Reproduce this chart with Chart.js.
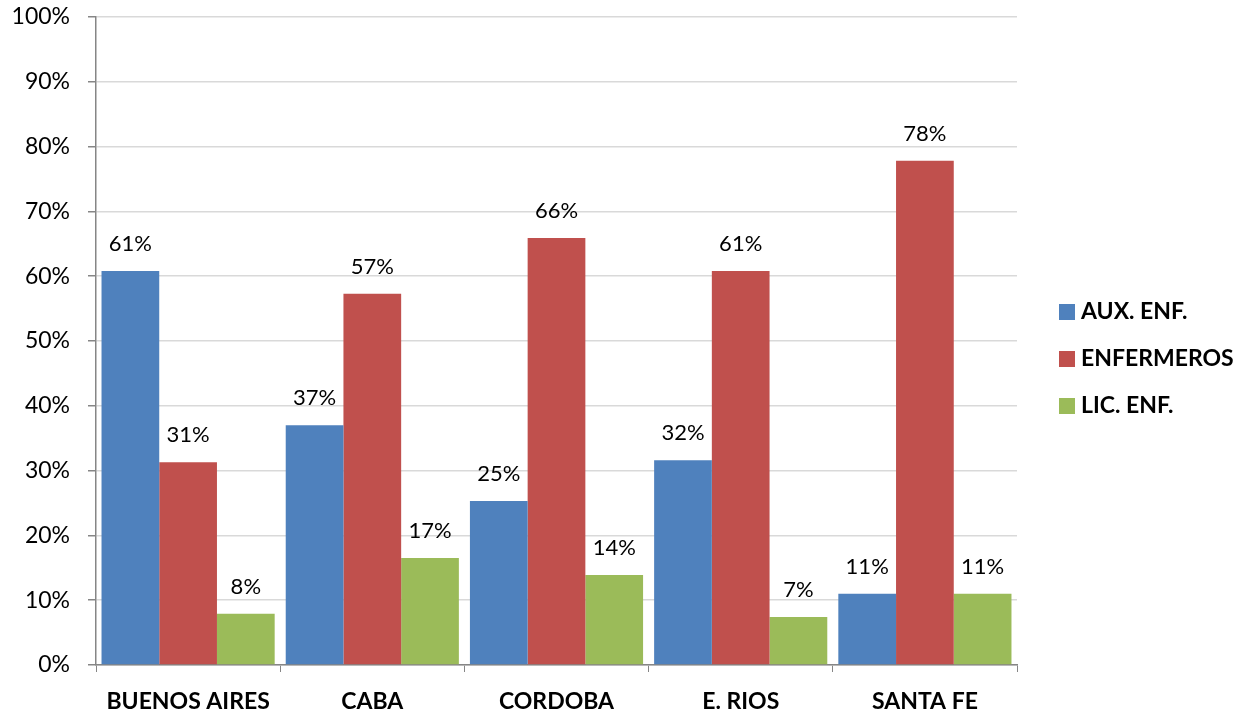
<!DOCTYPE html>
<html>
<head>
<meta charset="utf-8">
<script src="https://cdn.jsdelivr.net/npm/chart.js@4"></script>
<style>
  html, body { margin: 0; padding: 0; background: #fff; }
  #wrap { width: 1236px; height: 711px; }
</style>
</head>
<body>
<div id="wrap"><canvas id="provChart"></canvas></div>
<script>
const categories = ["BUENOS AIRES", "CABA", "CORDOBA", "E. RIOS", "SANTA FE"];
const seriesNames = ["AUX. ENF.", "ENFERMEROS", "LIC. ENF."];
const auxEnf = [60.8, 37.0, 25.3, 31.6, 11.0];
const enfermeros = [31.3, 57.3, 65.9, 60.8, 77.8];
const licEnf = [7.9, 16.5, 13.9, 7.4, 11.0];
const yTicks = [0, 10, 20, 30, 40, 50, 60, 70, 80, 90, 100];

const colors = ["#4F81BD", "#C0504D", "#9BBB59"];
const fontFamily = "Lato, 'Open Sans', sans-serif";

// value labels above each bar
const barLabels = {
  id: "barLabels",
  afterDatasetsDraw(chart) {
    const ctx = chart.ctx;
    ctx.save();
    ctx.font = "22px " + fontFamily;
    ctx.fillStyle = "#000";
    ctx.textAlign = "center";
    ctx.textBaseline = "middle";
    chart.data.datasets.forEach((ds, i) => {
      chart.getDatasetMeta(i).data.forEach((bar, j) => {
        ctx.fillText(Math.round(ds.data[j]) + "%", bar.x, bar.y - 27);
      });
    });
    ctx.restore();
  }
};

// legend on the right, drawn by hand for exact placement
const sideLegend = {
  id: "sideLegend",
  afterDraw(chart) {
    const ctx = chart.ctx;
    const midY = (chart.chartArea.top + chart.chartArea.bottom) / 2 + 18;
    ctx.save();
    ctx.font = "bold 23px " + fontFamily;
    ctx.textBaseline = "middle";
    ctx.textAlign = "left";
    seriesNames.forEach((name, i) => {
      const y = midY + (i - 1) * 47;
      ctx.fillStyle = colors[i];
      ctx.fillRect(1059, y - 8, 16, 16);
      ctx.fillStyle = "#000";
      ctx.fillText(name, 1081, y);
    });
    ctx.restore();
  }
};

const values = [auxEnf, enfermeros, licEnf];

new Chart(document.getElementById("provChart"), {
  type: "bar",
  data: {
    labels: categories,
    datasets: seriesNames.map((name, i) => ({
      label: name,
      data: values[i],
      backgroundColor: colors[i],
      borderWidth: 0,
      categoryPercentage: 0.94,
      barPercentage: 1.0
    }))
  },
  options: {
    responsive: true,
    maintainAspectRatio: false,
    animation: false,
    layout: { padding: { top: 17, right: 219, left: 0, bottom: 0 } },
    plugins: {
      legend: { display: false },
      tooltip: { enabled: false }
    },
    scales: {
      x: {
        grid: {
          display: true,
          drawOnChartArea: false,
          drawTicks: true,
          tickLength: 7,
          color: "#868686",
          offset: true
        },
        border: { color: "#868686", width: 1.5 },
        ticks: {
          color: "#000",
          font: { family: fontFamily, size: 23, weight: "bold" },
          padding: 16
        },
        afterFit(scale) { scale.height = 46; }
      },
      y: {
        min: 0,
        max: 100,
        afterBuildTicks(scale) {
          scale.ticks = yTicks.map(v => ({ value: v }));
        },
        grid: {
          color: "#D9D9D9",
          lineWidth: 1.5,
          tickLength: 8,
          tickColor: "#868686"
        },
        border: { color: "#868686", width: 1.5 },
        ticks: {
          color: "#000",
          font: { family: fontFamily, size: 23 },
          padding: 18,
          callback: v => v + "%"
        },
        afterFit(scale) {
          scale.width = 96;
          scale.paddingTop = 0;
          scale.paddingBottom = 0;
        }
      }
    }
  },
  plugins: [barLabels, sideLegend]
});
</script>
</body>
</html>
